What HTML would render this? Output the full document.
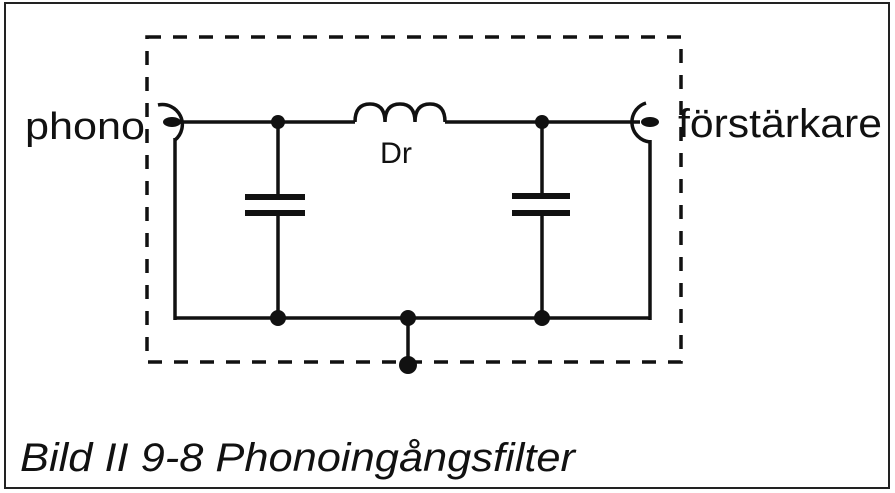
<!DOCTYPE html>
<html><head><style>
body{margin:0;background:#fff;}
svg{display:block}
text{font-family:"Liberation Sans",sans-serif;fill:#111}
</style></head><body>
<svg width="895" height="493" viewBox="0 0 895 493">
<rect x="5" y="3" width="884" height="485" fill="none" stroke="#222" stroke-width="2"/>
<rect x="147" y="37" width="534" height="325" fill="none" stroke="#111" stroke-width="3.5" stroke-dasharray="14,12"/>
<g stroke="#111" stroke-width="3.5" fill="none">
<path d="M158 105 A20 20 0 0 1 175 140"/>
<line x1="175" y1="138" x2="175" y2="320"/>
<line x1="166" y1="122" x2="355" y2="122"/>
<path d="M355 122 Q355 104 370 104 Q385 104 385 122 M385 122 Q385 104 400 104 Q415 104 415 122 M415 122 Q415 104 430 104 Q445 104 445 122"/>
<line x1="445" y1="122" x2="640" y2="122"/>
<path d="M646 103 A20 20 0 0 0 650 142"/>
<line x1="650" y1="140" x2="650" y2="320"/>
<line x1="278" y1="122" x2="278" y2="197"/>
<line x1="278" y1="213" x2="278" y2="318"/>
<line x1="542" y1="122" x2="542" y2="195"/>
<line x1="542" y1="213" x2="542" y2="318"/>
<line x1="408" y1="318" x2="408" y2="365"/>
<line x1="175" y1="318" x2="650" y2="318"/>
</g>
<g fill="#111">
<rect x="245" y="194" width="60" height="6"/>
<rect x="245" y="210" width="60" height="6"/>
<rect x="512" y="193" width="58" height="6"/>
<rect x="512" y="210" width="58" height="6"/>
<ellipse cx="172" cy="122" rx="9" ry="5"/>
<ellipse cx="650" cy="122" rx="9" ry="5"/>
<circle cx="278" cy="122" r="7"/><circle cx="542" cy="122" r="7"/>
<circle cx="278" cy="318" r="8"/><circle cx="408" cy="318" r="8"/><circle cx="542" cy="318" r="8"/>
<circle cx="408" cy="365" r="9"/>
</g>
<text x="25" y="139" font-size="38" textLength="120" lengthAdjust="spacingAndGlyphs">phono</text>
<text x="678" y="137" font-size="40" textLength="204" lengthAdjust="spacingAndGlyphs">förstärkare</text>
<text x="380" y="163" font-size="30" textLength="32" lengthAdjust="spacingAndGlyphs">Dr</text>
<text x="20" y="471" font-size="40" font-style="italic" textLength="555" lengthAdjust="spacingAndGlyphs">Bild II 9-8  Phonoingångsfilter</text>
</svg>
</body></html>
